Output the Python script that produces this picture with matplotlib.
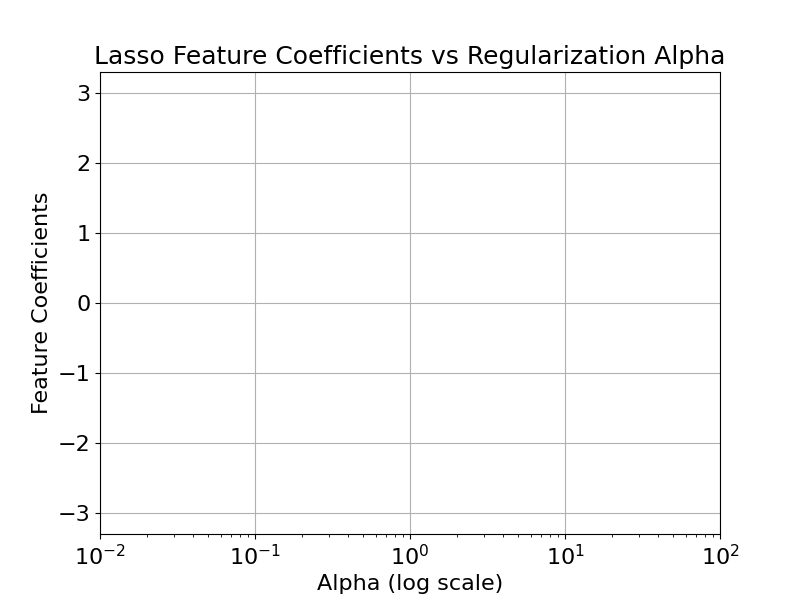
import matplotlib
matplotlib.use("Agg")
import matplotlib.pyplot as plt

# ===[ Data ]==================================================================
x_limits = [1e-2, 1e2]
y_limits = [-3.3, 3.3]
y_ticks = [-3, -2, -1, 0, 1, 2, 3]

# ===[ Plot ]==================================================================
plt.rcParams["font.size"] = 16
fig, ax = plt.subplots(figsize=(8, 6), dpi=100)
ax.set_xscale("log")
ax.set_xlim(*x_limits)
ax.set_ylim(*y_limits)
ax.set_yticks(y_ticks)
ax.grid(True)
ax.set_title("Lasso Feature Coefficients vs Regularization Alpha", fontsize=18)
ax.set_xlabel("Alpha (log scale)")
ax.set_ylabel("Feature Coefficients")
fig.savefig("out.png")
